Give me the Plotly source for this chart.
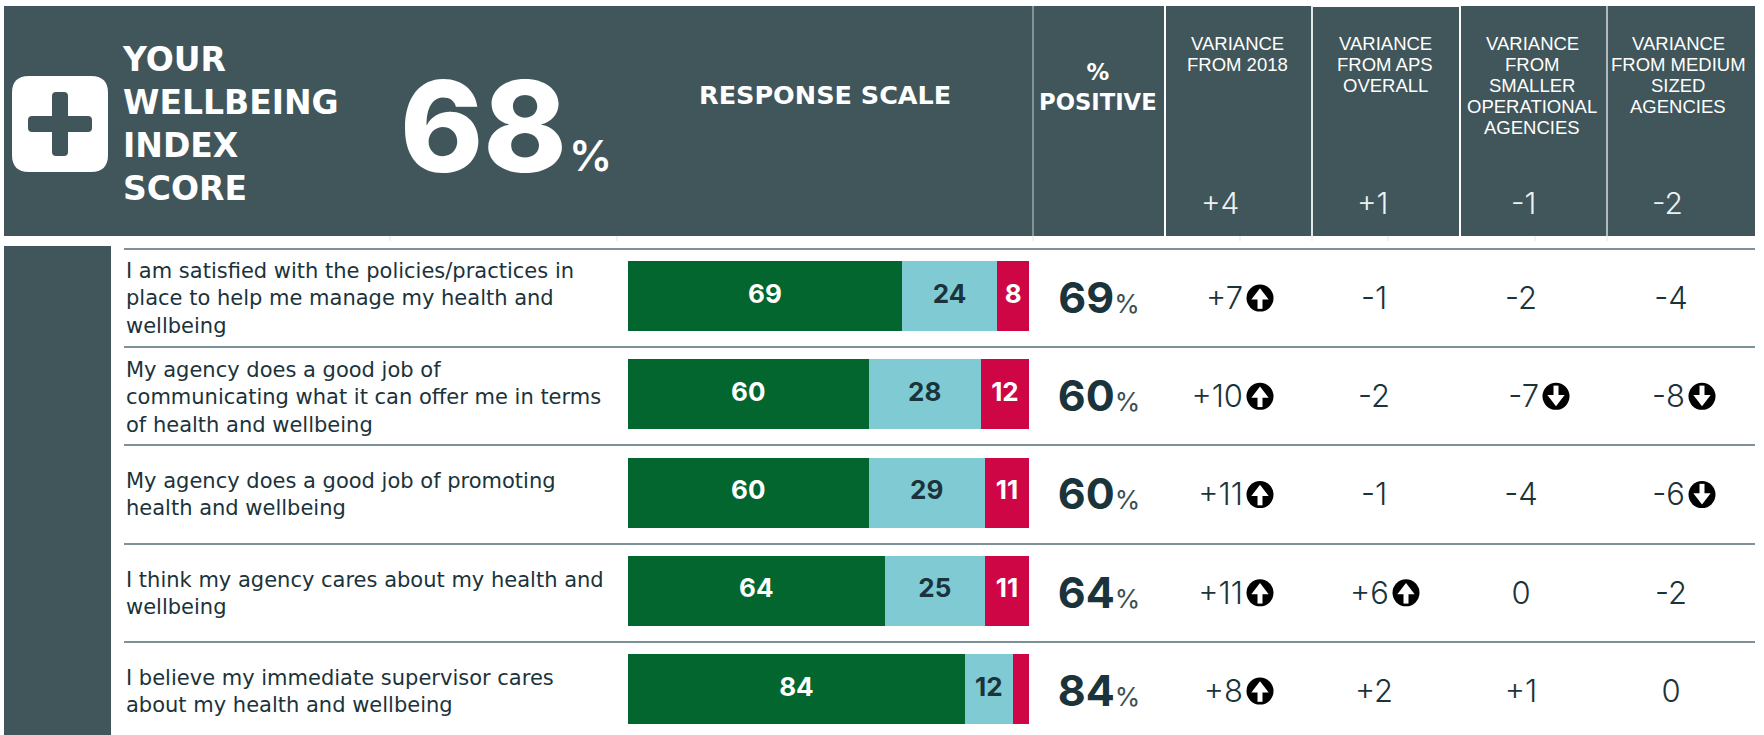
import plotly.graph_objects as go

# ---------- data ----------
questions = [
    "I am satisfied with the policies/practices in<br>place to help me manage my health and<br>wellbeing",
    "My agency does a good job of<br>communicating what it can offer me in terms<br>of health and wellbeing",
    "My agency does a good job of promoting<br>health and wellbeing",
    "I think my agency cares about my health and<br>wellbeing",
    "I believe my immediate supervisor cares<br>about my health and wellbeing",
]
positive = [69, 60, 60, 64, 84]
neutral = [24, 28, 29, 25, 12]
negative = [8, 12, 11, 11, 4]
negative_labels = ["8", "12", "11", "11", ""]
var_2018 = ["+7", "+10", "+11", "+11", "+8"]
var_aps = ["-1", "-2", "-1", "+6", "+2"]
var_smaller = ["-2", "-7", "-4", "0", "+1"]
var_medium = ["-4", "-8", "-6", "-2", "0"]
sig_2018 = [1, 1, 1, 1, 1]
sig_aps = [0, 0, 0, 1, 0]
sig_smaller = [0, -1, 0, 0, 0]
sig_medium = [0, -1, -1, 0, 0]
col_titles = [
    ["VARIANCE", "FROM 2018"],
    ["VARIANCE", "FROM APS", "OVERALL"],
    ["VARIANCE", "FROM", "SMALLER", "OPERATIONAL", "AGENCIES"],
    ["VARIANCE", "FROM MEDIUM", "SIZED", "AGENCIES"],
]
col_totals = ["+4", "+1", "-1", "-2"]

# ---------- style / layout constants ----------
W, H = 1764, 735
HEAD = "#40565b"
DARK = "#1b333a"
GREEN, BLUE, RED = "#03662f", "#80cbd3", "#cf0645"
SANS = "Inter, Lato, sans-serif"
WIDE = "DejaVu Sans, sans-serif"
ARIAL = "Liberation Sans, Arial, sans-serif"
ROW_PX = 98.25
TOP_PX = 247
rows = list(range(5))
col_title_x = [1237, 1385, 1532, 1678]
col_total_x = [1220, 1372, 1523, 1667]
col_center = [1222, 1374, 1521, 1671]
col_arrow = [1260, 1406, 1556, 1702]

def px(x):
    return x / W
def py(y):
    return 1 - y / H

fig = go.Figure()
names = ["Positive", "Neutral", "Negative"]
vals = [positive, neutral, negative]
colors = [GREEN, BLUE, RED]
labels = [[str(v) for v in positive], [str(v) for v in neutral], negative_labels]
tcol = ["white", DARK, "white"]
totals = [a + b + c for a, b, c in zip(positive, neutral, negative)]
running = [0] * 5
for n, v, c, l, t in zip(names, vals, colors, labels, tcol):
    fig.add_bar(
        y=rows, x=v, name=n, orientation="h", marker=dict(color=c, line=dict(width=0)),
        hoverinfo="x+name",
    )
    # segment labels sit at each segment's midpoint
    mids = [(running[i] + v[i] / 2) / totals[i] * 100 for i in rows]
    running = [running[i] + v[i] for i in rows]
    fig.add_scatter(
        x=mids, y=rows, mode="text", text=l,
        textfont=dict(family=SANS, size=26, color=t, weight=700),
        textposition="middle center", cliponaxis=False, hoverinfo="skip",
    )

# % positive column
fig.add_scatter(
    x=[1099] * 5, y=[r + 0.06 for r in rows], xaxis="x2", yaxis="y", mode="text",
    text=[f"<b>{v}</b><span style='font-size:26px;color:#3a4f55'>%</span>" for v in positive],
    textfont=dict(family=SANS, size=43, color=DARK), textposition="middle center",
    cliponaxis=False, hoverinfo="skip",
)

# variance columns
all_vars = [var_2018, var_aps, var_smaller, var_medium]
all_sigs = [sig_2018, sig_aps, sig_smaller, sig_medium]
VAR_FONT = dict(family=SANS, size=31, color=DARK, weight=300)
for vs, sg, cx, ax in zip(all_vars, all_sigs, col_center, col_arrow):
    plain = [i for i in rows if sg[i] == 0]
    marked = [i for i in rows if sg[i] != 0]
    if plain:
        fig.add_scatter(
            x=[cx] * len(plain), y=[i + 0.05 for i in plain], xaxis="x2", yaxis="y", mode="text",
            text=[vs[i] for i in plain], textfont=VAR_FONT,
            textposition="middle center", cliponaxis=False, hoverinfo="skip",
        )
    if marked:
        fig.add_scatter(
            x=[ax - 17] * len(marked), y=[i + 0.05 for i in marked], xaxis="x2", yaxis="y", mode="text",
            text=[vs[i] for i in marked], textfont=VAR_FONT,
            textposition="middle left", cliponaxis=False, hoverinfo="skip",
        )
        fig.add_scatter(
            x=[ax] * len(marked), y=[i + 0.02 for i in marked], xaxis="x2", yaxis="y", mode="markers",
            marker=dict(symbol="circle", size=27, color="black", line=dict(width=0)),
            cliponaxis=False, hoverinfo="skip",
        )
        for sign, sym in [(1, "triangle-up"), (-1, "triangle-down")]:
            sel = [i for i in marked if sg[i] == sign]
            if sel:
                fig.add_scatter(
                    x=[ax] * len(sel), y=[i + 0.02 - sign * 0.025 for i in sel], xaxis="x2", yaxis="y", mode="markers",
                    marker=dict(symbol=sym, size=15, color="white", line=dict(width=0)),
                    cliponaxis=False, hoverinfo="skip",
                )
                fig.add_scatter(
                    x=[ax] * len(sel), y=[i + 0.02 + sign * 0.045 for i in sel], xaxis="x2", yaxis="y", mode="markers",
                    marker=dict(symbol="line-ns", size=9, color="white", line=dict(width=5, color="white")),
                    cliponaxis=False, hoverinfo="skip",
                )

# ---------- shapes ----------
shapes = []
def rect(x0, y0, x1, y1, color):
    shapes.append(dict(type="rect", xref="paper", yref="paper", x0=px(x0), x1=px(x1),
                       y0=py(y1), y1=py(y0), fillcolor=color, line=dict(width=0), layer="below"))
def line(x0, y0, x1, y1, color, width):
    shapes.append(dict(type="line", xref="paper", yref="paper", x0=px(x0), x1=px(x1),
                       y0=py(y0), y1=py(y1), line=dict(color=color, width=width), layer="below"))

rect(4, 6, 1755, 236, HEAD)
rect(4, 246, 111, 735, HEAD)
line(1312, 6.5, 1460, 6.5, "#ffffff", 1)
for x, c, w in [(1033, "#c5ced0", 1), (1165, "#ffffff", 2), (1312, "#e3e8e9", 2), (1460, "#ffffff", 2), (1607, "#d5dcdd", 1.5)]:
    line(x, 6, x, 236, c, w)
for x in [390, 617, 1033, 1240, 1312, 1388, 1535, 1607]:
    line(x, 236, x, 241, "#e2e6e7", 1)
for y in [249, 347, 445, 544, 642]:
    line(124, y, 1755, y, "#7d9298", 2)

# white rounded icon with dark plus
def rounded(x0, y0, x1, y1, r):
    p = [
        f"M{px(x0 + r)},{py(y0)}", f"L{px(x1 - r)},{py(y0)}", f"Q{px(x1)},{py(y0)} {px(x1)},{py(y0 + r)}",
        f"L{px(x1)},{py(y1 - r)}", f"Q{px(x1)},{py(y1)} {px(x1 - r)},{py(y1)}",
        f"L{px(x0 + r)},{py(y1)}", f"Q{px(x0)},{py(y1)} {px(x0)},{py(y1 - r)}",
        f"L{px(x0)},{py(y0 + r)}", f"Q{px(x0)},{py(y0)} {px(x0 + r)},{py(y0)}", "Z",
    ]
    return " ".join(p)
for (a, b, c, d, r, col) in [(12, 76, 108, 172, 17, "white"), (52, 92, 68, 156, 4, HEAD), (28, 116, 92, 132, 4, HEAD)]:
    shapes.append(dict(type="path", xref="paper", yref="paper", path=rounded(a, b, c, d, r),
                       fillcolor=col, line=dict(width=0), layer="below"))

# ---------- annotations ----------
ann = []
def note(x, y, text, size, color="white", family=SANS, xa="center", ya="middle", align="center", weight=None):
    f = dict(family=family, size=size, color=color)
    if weight:
        f["weight"] = weight
    ann.append(dict(xref="paper", yref="paper", x=px(x), y=py(y), text=text, showarrow=False,
                    xanchor=xa, yanchor=ya, align=align, font=f, borderpad=0, borderwidth=0))

note(122, 124, "YOUR<br>WELLBEING<br>INDEX<br>SCORE", 33, family=WIDE, xa="left", align="left", weight=700)
note(400, 126, "68", 126, xa="left", weight=800)
note(569, 155, "%", 43, xa="left", weight=600)
note(825, 95, "RESPONSE SCALE", 25.5, family=WIDE, weight=700)
note(1098, 87, "%<br>POSITIVE", 22.7, family=WIDE, weight=700)
for x, lines in zip(col_title_x, col_titles):
    for k, t in enumerate(lines):
        note(x, 43 + k * 21.1, t, 18.5, family=ARIAL)
for x, t in zip(col_total_x, col_totals):
    note(x, 203, t, 30, color="#eef1f2", weight=300)
row_label_y = [298, 397, 494.5, 593, 691]
for y, q in zip(row_label_y, questions):
    note(126, y, q, 21, color=DARK, family=WIDE, xa="left", align="left")

fig.update_layout(
    width=W, height=H, margin=dict(l=0, r=0, t=0, b=0), paper_bgcolor="white", plot_bgcolor="rgba(0,0,0,0)",
    barmode="stack", barnorm="percent", bargap=1 - 70 / ROW_PX, showlegend=False,
    shapes=shapes, annotations=ann,
    xaxis=dict(domain=[px(628), px(1029)], range=[0, 100], visible=False, fixedrange=True),
    xaxis2=dict(domain=[0, 1], range=[0, W], visible=False, anchor="y", fixedrange=True),
    yaxis=dict(domain=[0, py(TOP_PX)], range=[(H - TOP_PX) / ROW_PX - 0.5, -0.5], visible=False, fixedrange=True),
)
fig.write_html("out.html", config={"displayModeBar": False},
               post_script="document.body.style.margin='0';document.documentElement.style.overflow='hidden';")
